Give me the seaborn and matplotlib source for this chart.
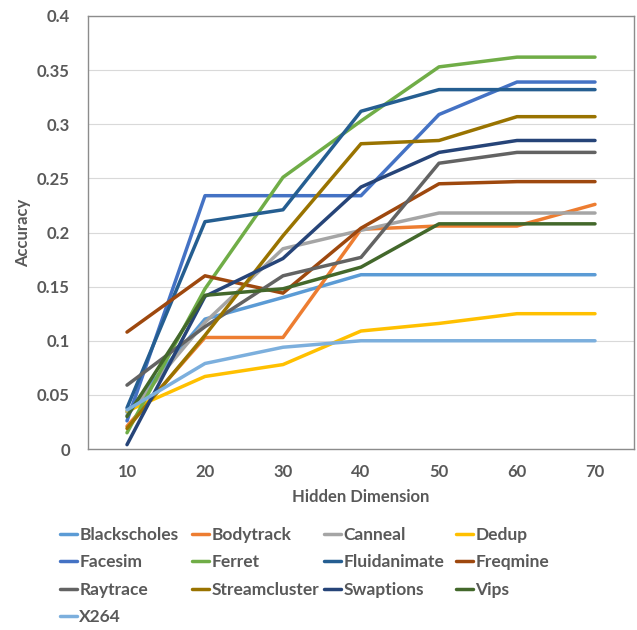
import pandas as pd
import matplotlib.pyplot as plt
import seaborn as sns
from matplotlib.lines import Line2D

# values
dims = [10, 20, 30, 40, 50, 60, 70]
blackscholes = [0.034, 0.120, 0.140, 0.161, 0.161, 0.161, 0.161]
bodytrack = [0.021, 0.103, 0.103, 0.203, 0.206, 0.206, 0.226]
canneal = [0.031, 0.117, 0.185, 0.202, 0.218, 0.218, 0.218]
dedup = [0.035, 0.067, 0.078, 0.109, 0.116, 0.125, 0.125]
facesim = [0.026, 0.234, 0.234, 0.234, 0.309, 0.339, 0.339]
ferret = [0.015, 0.148, 0.251, 0.303, 0.353, 0.362, 0.362]
fluidanimate = [0.038, 0.210, 0.221, 0.312, 0.332, 0.332, 0.332]
freqmine = [0.108, 0.160, 0.144, 0.204, 0.245, 0.247, 0.247]
raytrace = [0.059, 0.113, 0.160, 0.177, 0.264, 0.274, 0.274]
streamcluster = [0.019, 0.105, 0.197, 0.282, 0.285, 0.307, 0.307]
swaptions = [0.004, 0.141, 0.176, 0.242, 0.274, 0.285, 0.285]
vips = [0.030, 0.142, 0.148, 0.168, 0.208, 0.208, 0.208]
x264 = [0.036, 0.079, 0.094, 0.100, 0.100, 0.100, 0.100]

names = ['Blackscholes', 'Bodytrack', 'Canneal', 'Dedup', 'Facesim', 'Ferret',
         'Fluidanimate', 'Freqmine', 'Raytrace', 'Streamcluster', 'Swaptions',
         'Vips', 'X264']
series = [blackscholes, bodytrack, canneal, dedup, facesim, ferret,
          fluidanimate, freqmine, raytrace, streamcluster, swaptions, vips, x264]
colors = ['#5B9BD5', '#ED7D31', '#A5A5A5', '#FFC000', '#4472C4', '#70AD47',
          '#255E91', '#9E480E', '#636363', '#997300', '#264478', '#43682B',
          '#7CAFDD']

rows = []
for name, vals in zip(names, series):
    for d, v in zip(dims, vals):
        rows.append({'Hidden Dimension': d, 'Accuracy': v, 'Benchmark': name})
df = pd.DataFrame(rows)
palette = dict(zip(names, colors))

sns.set_style('white')
plt.rcParams['font.family'] = ['Lato', 'DejaVu Sans']
text_color = '#595959'

fig = plt.figure(figsize=(6.37, 6.30), dpi=100)
ax = fig.add_axes([88 / 637, 1 - 449 / 630, (634 - 88) / 637, (449 - 16) / 630])

sns.lineplot(data=df, x='Hidden Dimension', y='Accuracy', hue='Benchmark',
             hue_order=names, palette=palette, linewidth=2.5, legend=False,
             ax=ax, solid_capstyle='round')

ax.set_xlim(5, 75)
ax.set_ylim(0, 0.4)
ax.set_xticks(dims)
ax.set_xticklabels([str(d) for d in dims])
yt = [0, 0.05, 0.1, 0.15, 0.2, 0.25, 0.3, 0.35, 0.4]
ax.set_yticks(yt)
ax.set_yticklabels(['0', '0.05', '0.1', '0.15', '0.2', '0.25', '0.3', '0.35', '0.4'])
ax.yaxis.grid(True, color='#D9D9D9', linewidth=0.8)
ax.set_axisbelow(True)
for s in ax.spines.values():
    s.set_visible(True)
    s.set_color('#8C8C8C')
    s.set_linewidth(1.0)

ax.tick_params(axis='both', length=0, labelsize=12, labelcolor=text_color)
ax.tick_params(axis='y', pad=13)
ax.tick_params(axis='x', pad=11)
for lbl in ax.get_xticklabels() + ax.get_yticklabels():
    lbl.set_fontweight('bold')

ax.set_xlabel('Hidden Dimension', fontsize=12, fontweight='bold', color=text_color, labelpad=6)
ax.set_ylabel('Accuracy', fontsize=12, fontweight='bold', color=text_color, labelpad=4)

# legend, four fixed-width columns like the original
col_x = [60, 192, 324, 456]
for c in range(4):
    idx = list(range(c, len(names), 4))
    handles = [Line2D([0], [0], color=colors[i], linewidth=2.5) for i in idx]
    labels = [names[i] for i in idx]
    leg = fig.legend(handles, labels, loc='upper left',
                     bbox_to_anchor=(col_x[c] / 637, 1 - 527 / 630),
                     frameon=False, handlelength=1.0, handletextpad=0.12,
                     labelspacing=0.66, borderaxespad=0, borderpad=0,
                     prop={'size': 12.5, 'weight': 'bold'})
    for t in leg.get_texts():
        t.set_color(text_color)

fig.savefig('out.png', dpi=100)
